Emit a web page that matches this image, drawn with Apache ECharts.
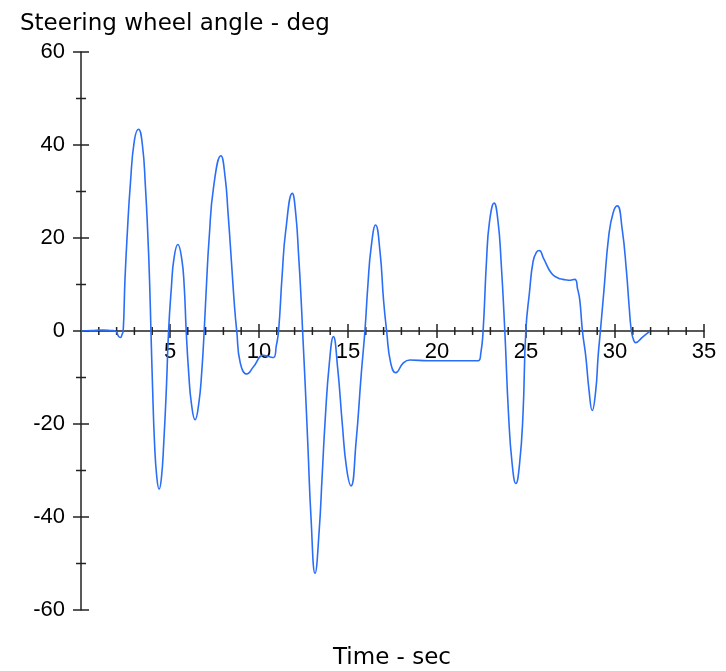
<!DOCTYPE html>
<html>
<head>
<meta charset="utf-8">
<script src="https://cdn.jsdelivr.net/npm/echarts@6/dist/echarts.min.js"></script>
<style>
html,body{margin:0;padding:0;background:#fff;}
#chart{width:726px;height:671px;}
</style>
</head>
<body>
<div id="chart"></div>
<script>
// Time (s) and steering wheel angle (deg)
const timeSec = [
  0, 0.6, 1.2, 1.7, 1.95, 2.1, 2.22, 2.3, 2.37, 2.47, 2.6, 2.78, 3.0, 3.23, 3.45, 3.62, 3.75, 3.85, 3.93,
  4.02, 4.13, 4.26, 4.39, 4.52, 4.65, 4.8, 4.92, 5.08, 5.22, 5.44, 5.66, 5.8, 5.91,
  6.05, 6.2, 6.41, 6.62, 6.78, 6.92, 7.05, 7.2, 7.45, 7.86, 8.1, 8.25, 8.45, 8.63, 8.75,
  8.95, 9.32, 9.69, 10.25, 10.55, 10.81, 10.98, 11.1, 11.3, 11.5, 11.87, 12.07, 12.23, 12.35, 12.45,
  12.6, 12.75, 12.92, 13.15, 13.38, 13.55, 13.72, 13.95, 14.18, 14.42, 14.68, 14.92, 15.17,
  15.45, 15.75, 15.95, 16.12, 16.3, 16.55, 16.8, 17.0, 17.17, 17.4, 17.69, 18.1, 18.48,
  19.5, 21, 22.31, 22.46, 22.59, 22.78, 22.95, 23.21, 23.43, 23.6, 23.81,
  24.02, 24.22, 24.43, 24.64, 24.83, 24.99, 25.2, 25.4, 25.6, 25.74, 26.0, 26.43, 26.8,
  27.08, 27.4, 27.74, 27.9, 28.02, 28.17, 28.36, 28.54, 28.72, 28.92, 29.05, 29.18,
  29.38, 29.65, 29.9, 30.13, 30.4, 30.64, 30.8, 30.92, 31.05, 31.16, 31.55, 31.95
];
const angleDeg = [
  0, 0.1, 0.2, 0.1, 0, -1.1, -1.4, -0.8, 0, 11, 21, 32, 41, 43.4, 40, 31, 21, 11, 0,
  -12, -24, -31.5, -34, -31.5, -24, -12, 0, 9.5, 15.5, 18.6, 15.5, 9.5, 0,
  -9, -15.5, -19.1, -15.5, -9, 0, 10, 20, 31, 37.7, 33, 26, 15, 5, 0,
  -6.9, -9.25, -7.7, -5.2, -5.5, -5.7, -3, 0, 12, 21.5, 29.6, 25, 16, 8, 0,
  -12, -25, -40, -52.1, -43, -31, -19, -7, -1.2, -8, -20, -29.5, -33.3,
  -24, -9, 0, 10, 18, 22.8, 17, 6.5, 0, -6.9, -8.96, -6.9, -6.24,
  -6.4, -6.4, -6.4, -4.8, 0, 15, 23.5, 27.5, 23.5, 15, 0,
  -18, -28.5, -32.8, -28.5, -18, 0, 8.5, 15, 17, 17.3, 15.5, 12.4, 11.4,
  11.1, 10.9, 11.1, 9, 6.7, 0, -5.5, -12.7, -17.1, -12.7, -5.5, 0,
  8.8, 20.5, 25.5, 26.9, 22, 13, 5, 0, -2, -2.5, -1.3, -0.1
];
const yTicks = [-60, -40, -20, 0, 20, 40, 60];
const xTicks = [0, 5, 10, 15, 20, 25, 30, 35];
// tick marks crossing the axes (x: every 1 s, y: every 10 deg)
const xTickMarks = [1, 2, 3, 4, 5, 6, 7, 8, 9, 10, 11, 12, 13, 14, 15, 16, 17, 18, 19, 20,
  21, 22, 23, 24, 25, 26, 27, 28, 29, 30, 31, 32, 33, 34, 35];
const yTickMarks = [-60, -50, -40, -30, -20, -10, 0, 10, 20, 30, 40, 50, 60];
const titleText = 'Steering wheel angle - deg';
const xTitleText = 'Time - sec';

const data = timeSec.map((t, i) => [t, angleDeg[i]]);
const axisColor = '#222';
const labelFont = {fontFamily: 'Liberation Sans', fontSize: 22, color: '#000'};
const xMin = xTicks[0], xMax = xTicks[xTicks.length - 1];
const yMin = yTicks[0], yMax = yTicks[yTicks.length - 1];

function xTickItem(params, api) {
  const v = api.value(0);
  const p = api.coord([v, 0]);
  const len = (v % 5 === 0) ? 7 : 4;
  return {type: 'line', silent: true,
    shape: {x1: p[0], y1: p[1] - len, x2: p[0], y2: p[1] + len},
    style: {stroke: axisColor, lineWidth: 1.5}};
}
function yTickItem(params, api) {
  const v = api.value(1);
  const p = api.coord([xMin, v]);
  const len = (v % 20 === 0) ? 8 : 5;
  return {type: 'line', silent: true,
    shape: {x1: p[0] - len, y1: p[1], x2: p[0] + len, y2: p[1]},
    style: {stroke: axisColor, lineWidth: 1.5}};
}

const chart = echarts.init(document.getElementById('chart'), null, {renderer: 'canvas'});
chart.setOption({
  animation: false,
  backgroundColor: '#fff',
  title: [
    {text: titleText, left: 20, top: 13, padding: 0,
     textStyle: {fontFamily: 'DejaVu Sans', fontSize: 23, fontWeight: 'normal', color: '#000'}},
    {text: xTitleText, left: 333, top: 647, padding: 0,
     textStyle: {fontFamily: 'DejaVu Sans', fontSize: 23, fontWeight: 'normal', color: '#000'}}
  ],
  grid: [
    {left: 81, right: 22, top: 52, bottom: 61},          // plot
    {left: 81, right: 22, top: 52, height: 279}          // upper half: x axis line + labels at y = 0
  ],
  xAxis: [
    {gridIndex: 0, type: 'value', min: xMin, max: xMax, show: false},
    {gridIndex: 1, type: 'value', min: xMin, max: xMax, interval: 5, position: 'bottom',
     splitLine: {show: false},
     axisLine: {show: true, onZero: false, lineStyle: {color: axisColor, width: 1.5}},
     axisTick: {show: false},
     axisLabel: Object.assign({margin: 10, formatter: v => (v === 0 ? '' : String(v))}, labelFont)}
  ],
  yAxis: [
    {gridIndex: 0, type: 'value', min: yMin, max: yMax, interval: 20, position: 'left',
     splitLine: {show: false},
     axisLine: {show: true, onZero: false, lineStyle: {color: axisColor, width: 1.5}},
     axisTick: {show: false},
     axisLabel: Object.assign({margin: 16}, labelFont)},
    {gridIndex: 1, type: 'value', min: 0, max: 1, show: false}
  ],
  series: [
    {type: 'custom', xAxisIndex: 0, yAxisIndex: 0, silent: true, z: 1,
     data: xTickMarks.map(v => [v, 0]), renderItem: xTickItem},
    {type: 'custom', xAxisIndex: 0, yAxisIndex: 0, silent: true, z: 1,
     data: yTickMarks.map(v => [xMin, v]), renderItem: yTickItem},
    {type: 'line', xAxisIndex: 0, yAxisIndex: 0, data: data, z: 3,
     showSymbol: false, smooth: 0.5,
     lineStyle: {color: '#2a6ef8', width: 1.6}}
  ]
});
</script>
</body>
</html>
